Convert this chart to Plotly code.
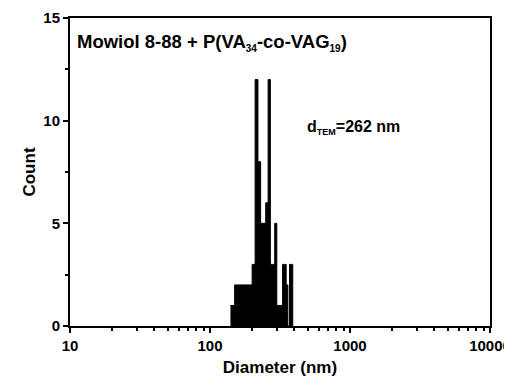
import plotly.graph_objects as go

# histogram of particle diameters (10 nm bins)
bin_edges = [140, 150, 160, 170, 180, 190, 200, 210, 220, 230, 240, 250, 260, 270,
             280, 290, 300, 310, 320, 330, 340, 350, 360, 370, 380, 390]
counts = [1, 2, 2, 2, 2, 2, 3, 12, 8, 5, 5, 6, 12, 3,
          3, 5, 1, 1, 1, 3, 3, 2, 0, 3, 3]

x_ticks = [10, 100, 1000, 10000]
x_minor = [m * d for d in (10, 100, 1000) for m in range(2, 10)]
y_ticks = [0, 5, 10, 15]
y_minor = [2.5, 7.5, 12.5]

font = "Liberation Sans, Arial, sans-serif"


def small_sub(s, size):
    return f"<sub><span style='font-size:{size}px'>{s}</span></sub>"


fig = go.Figure(go.Scatter(
    x=bin_edges,
    y=counts + [0],
    mode="lines",
    line=dict(shape="hv", color="black", width=1),
    fill="tozeroy",
    fillcolor="black",
    hoverinfo="skip",
))

axis_common = dict(
    showline=True, linecolor="black", linewidth=2, mirror=True,
    ticks="outside", ticklen=5, tickwidth=2, tickcolor="black",
    showgrid=False, zeroline=False, automargin=False,
)

fig.update_xaxes(
    type="log", range=[1, 4],
    tickmode="array", tickvals=x_ticks, ticktext=[f"<b>{v}</b>" for v in x_ticks],
    tickfont=dict(family=font, size=15, color="black"),
    minor=dict(tickmode="array", tickvals=x_minor, ticks="outside",
               ticklen=3, tickwidth=2, tickcolor="black"),
    title=dict(text="<b>Diameter (nm)</b>", font=dict(family=font, size=17, color="black"),
               standoff=14),
    **axis_common,
)
fig.update_yaxes(
    range=[0, 15],
    tickmode="array", tickvals=y_ticks, ticktext=[f"<b>{v}</b>" for v in y_ticks],
    tickfont=dict(family=font, size=15, color="black"),
    minor=dict(tickmode="array", tickvals=y_minor, ticks="outside",
               ticklen=3, tickwidth=2, tickcolor="black"),
    title=dict(text="<b>Count</b>", font=dict(family=font, size=17, color="black"),
               standoff=3),
    **axis_common,
)

fig.add_annotation(
    text=f"<b>Mowiol 8-88 + P(VA{small_sub('34', 10)}-co-VAG{small_sub('19', 10)})</b>",
    xref="paper", yref="paper", x=0.012, y=0.965, xanchor="left", yanchor="top",
    showarrow=False, font=dict(family=font, size=18.5, color="black"),
)
fig.add_annotation(
    text=f"<b>d{small_sub('TEM', 9)}=262 nm</b>",
    xref="paper", yref="paper", x=0.56, y=0.645, xanchor="left", yanchor="middle",
    showarrow=False, font=dict(family=font, size=16, color="black"),
)

# page body adds an 8 px margin; figure height fits the window, width runs a
# little past it so the last tick label has room
fig.update_layout(
    width=512, height=369,
    margin=dict(l=62, r=30, t=10, b=51),
    plot_bgcolor="white", paper_bgcolor="white",
    showlegend=False,
)

fig.write_html("out.html")
